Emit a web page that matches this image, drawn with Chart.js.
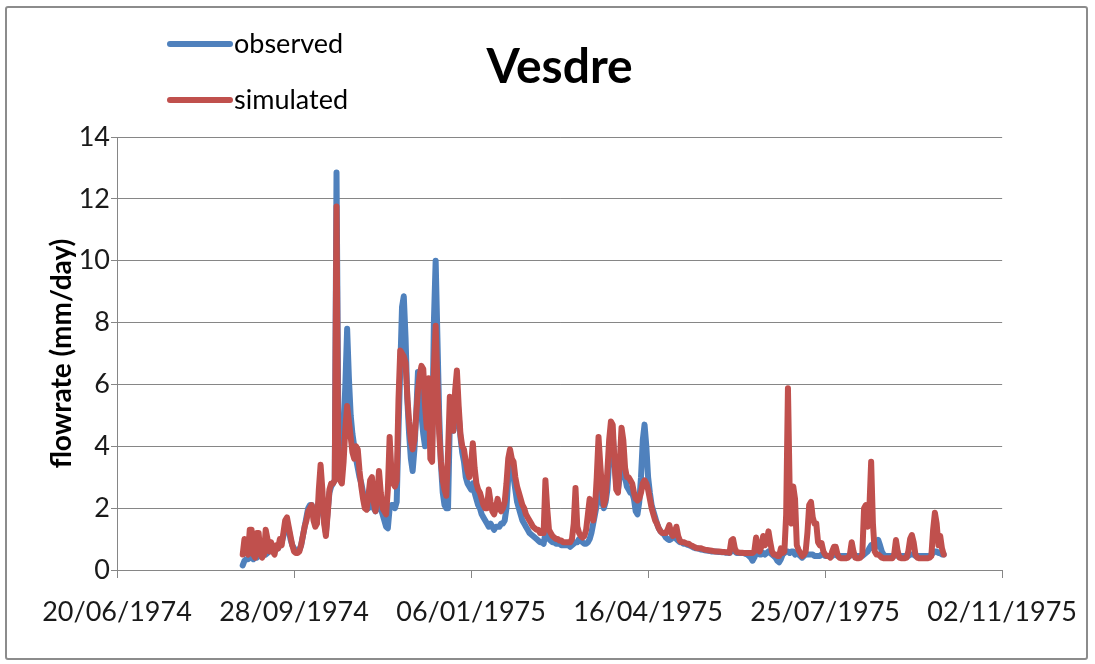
<!DOCTYPE html>
<html>
<head>
<meta charset="utf-8">
<title>Vesdre</title>
<script src="https://cdn.jsdelivr.net/npm/chart.js@4.4.1/dist/chart.umd.min.js"></script>
<style>
  html, body { margin: 0; padding: 0; background: #fff; }
  #frame {
    position: absolute; left: 5px; top: 6px; width: 1083px; height: 654px;
    border: 2px solid #8c8c8c; border-radius: 3px; box-sizing: border-box;
  }
  #wrap { position: absolute; left: 0; top: 0; width: 1095px; height: 664px; }
</style>
</head>
<body>
<div id="frame"></div>
<div id="wrap"><canvas id="vesdreChart" width="1095" height="664"></canvas></div>
<script>
// Vesdre: observed vs simulated daily flowrate, 30/08/1974 - 01/10/1975
// x is "days after 20/06/1974" (the first tick of the date axis)

const chartTitle = "Vesdre";
const yTitle = "flowrate (mm/day)";
const seriesNames = ["observed", "simulated"];
const seriesColors = ["#4f81bd", "#c0504d"];

const axisStartUTC = Date.UTC(1974, 5, 20); // 20/06/1974
const xTicksDays = [0, 100, 200, 300, 400, 500];
const yTicks = [0, 2, 4, 6, 8, 10, 12, 14];

const firstDay = 71; // one value per day from here on

const observed = [
  0.15, 0.3, 0.35, 0.35, 0.4, 0.4, 0.35, 0.45, 0.4, 0.5,        // 71
  0.45, 0.5, 0.55, 0.5, 0.55, 0.6, 0.7, 0.75, 0.7, 0.75,        // 81
  0.7, 0.8, 0.9, 1.1, 1.4, 1.5, 1.3, 1.0, 0.8, 0.7,             // 91
  0.6, 0.6, 0.65, 0.8, 1.1, 1.4, 1.7, 2.0, 2.1, 2.1,            // 101
  1.8, 1.6, 1.7, 2.2, 2.5, 2.0, 1.6, 1.2, 1.9, 2.5,             // 111
  2.7, 2.8, 2.9, 12.85, 5.0, 3.2, 3.0, 4.5, 6.0, 7.8,           // 121
  6.2, 5.0, 4.4, 4.0, 3.6, 3.3, 3.0, 2.8, 2.5, 2.2,             // 131
  2.0, 2.0, 2.1, 2.2, 2.0, 1.9, 2.0, 2.2, 2.0, 1.8,             // 141
  1.6, 1.4, 1.35, 2.0, 2.1, 2.1, 2.0, 2.2, 4.5, 6.5,            // 151
  8.5, 8.85, 7.5, 5.5, 4.4, 3.6, 3.2, 3.9, 5.0, 6.4,            // 161
  5.9, 5.0, 4.4, 4.0, 4.4, 4.8, 4.4, 4.0, 8.0, 10.0,            // 171
  7.5, 5.0, 3.4, 2.5, 2.1, 2.0, 2.0, 4.8, 5.2, 4.5,             // 181
  5.0, 5.8, 5.0, 4.3, 3.8, 3.5, 3.0, 2.8, 2.7, 2.6,             // 191
  2.8, 2.5, 2.3, 2.1, 2.0, 1.8, 1.7, 1.6, 1.5, 1.4,             // 201
  1.5, 1.4, 1.3, 1.4, 1.4, 1.4, 1.5, 1.5, 1.6, 2.0,             // 211
  3.0, 3.6, 3.3, 3.0, 2.6, 2.2, 2.0, 1.8, 1.6, 1.5,             // 221
  1.4, 1.3, 1.2, 1.15, 1.1, 1.05, 1.0, 0.95, 0.9, 0.9,          // 231
  0.85, 1.2, 1.1, 1.0, 0.95, 0.9, 0.9, 0.85, 0.85, 0.85,        // 241
  0.8, 0.8, 0.8, 0.8, 0.8, 0.75, 0.8, 0.85, 0.9, 0.9,           // 251
  1.0, 0.95, 0.9, 0.85, 0.85, 0.9, 1.0, 1.2, 1.5, 1.8,          // 261
  2.1, 2.5, 2.4, 2.2, 2.0, 2.2, 2.6, 3.5, 4.3, 4.4,             // 271
  3.5, 2.8, 2.6, 3.0, 3.9, 3.6, 3.0, 2.7, 2.6, 2.5,             // 281
  2.5, 2.3, 1.9, 1.8, 2.2, 3.0, 4.2, 4.7, 4.0, 3.0,             // 291
  2.5, 2.1, 1.9, 1.7, 1.5, 1.35, 1.25, 1.2, 1.15, 1.05,         // 301
  1.0, 0.97, 1.0, 1.1, 1.05, 1.0, 0.95, 0.9, 0.9, 0.85,         // 311
  0.85, 0.82, 0.8, 0.78, 0.75, 0.72, 0.7, 0.7, 0.68, 0.66,      // 321
  0.65, 0.64, 0.63, 0.62, 0.61, 0.6, 0.6, 0.6, 0.59, 0.58,      // 331
  0.58, 0.57, 0.57, 0.56, 0.56, 0.55,                           // 341
  0.6, 0.65, 0.6, 0.55, 0.55, 0.55, 0.55, 0.55, 0.52, 0.5,      // 347
  0.45, 0.4, 0.3, 0.4, 0.55, 0.55, 0.5, 0.5, 0.55, 0.5,         // 357
  0.55, 0.6, 0.55, 0.5, 0.45, 0.4, 0.3, 0.25, 0.35, 0.5,        // 367
  0.55, 0.6, 0.6, 0.55, 0.6, 0.6, 0.5, 0.55, 0.5, 0.45,         // 377
  0.4, 0.45, 0.5, 0.5, 0.5, 0.5, 0.5, 0.45, 0.45, 0.45,         // 387
  0.45, 0.5, 0.5, 0.45, 0.45, 0.45, 0.45, 0.45, 0.5, 0.5,       // 397
  0.45, 0.45, 0.45, 0.45, 0.45, 0.45, 0.45, 0.45, 0.5, 0.5,     // 407
  0.45, 0.45, 0.45, 0.45, 0.45, 0.5, 0.55, 0.6, 0.7, 0.8,       // 417
  0.7, 0.7, 0.85, 0.97, 0.8, 0.6, 0.5, 0.45, 0.45, 0.45,        // 427
  0.45, 0.45, 0.45, 0.5, 0.45, 0.45, 0.45, 0.45, 0.45, 0.45,    // 437
  0.45, 0.5, 0.5, 0.5, 0.45, 0.45, 0.45, 0.45, 0.45, 0.45,      // 447
  0.45, 0.45, 0.45, 0.5, 0.55, 0.6, 0.6, 0.55, 0.55, 0.5, 0.5   // 457
];

const simulated = [
  0.5, 1.0, 0.6, 0.5, 1.3, 1.3, 0.5, 0.4, 1.2, 1.2,             // 71
  0.5, 0.4, 0.5, 1.3, 1.0, 0.6, 0.9, 0.6, 0.5, 0.8,             // 81
  0.7, 1.0, 0.8, 1.2, 1.6, 1.7, 1.4, 1.1, 0.8, 0.6,             // 91
  0.55, 0.55, 0.6, 0.8, 1.1, 1.4, 1.6, 1.9, 2.0, 2.1,           // 101
  1.6, 1.4, 1.5, 2.6, 3.4, 2.6, 1.5, 1.1, 1.8, 2.6,             // 111
  2.8, 2.8, 2.9, 11.75, 3.0, 2.9, 2.8, 3.5, 4.6, 5.3,           // 121
  4.8, 4.3, 3.8, 3.6, 4.0, 3.9, 3.2, 2.7, 2.3, 2.0,             // 131
  1.95, 2.4, 2.9, 3.0, 2.2, 1.9, 2.4, 3.2, 2.5, 2.0,            // 141
  1.9, 1.8, 2.6, 4.3, 3.2, 2.8, 2.7, 2.9, 5.5, 7.1,             // 151
  7.0, 6.9, 6.7, 5.6, 4.8, 4.2, 3.9, 4.2, 5.0, 5.8,             // 161
  6.3, 6.6, 6.5, 5.3, 4.6, 6.2, 3.6, 3.5, 6.5, 7.9,             // 171
  6.0, 4.4, 3.5, 2.9, 2.6, 2.4, 3.8, 5.6, 5.0, 4.5,             // 181
  5.8, 6.45, 5.3, 4.4, 4.0, 3.9, 3.5, 3.2, 3.0, 3.4,            // 191
  4.1, 3.3, 2.8, 2.6, 2.5, 2.3, 2.1, 2.0, 2.0, 2.6,             // 201
  2.2, 1.9, 1.8, 2.0, 2.3, 2.0, 1.9, 2.0, 2.2, 2.8,             // 211
  3.6, 3.9, 3.6, 3.5, 3.0, 2.7, 2.5, 2.3, 2.1, 2.0,             // 221
  1.8, 1.7, 1.6, 1.5, 1.4, 1.35, 1.3, 1.3, 1.2, 1.2,            // 231
  1.2, 2.9, 2.0, 1.3, 1.2, 1.1, 1.05, 1.0, 1.0, 0.95,           // 241
  0.95, 0.9, 0.9, 0.9, 0.9, 0.9, 1.0, 1.5, 2.65, 1.4,           // 251
  1.2, 1.1, 1.05, 1.1, 1.3, 1.8, 2.3, 2.0, 1.6, 2.0,            // 261
  3.0, 4.3, 3.4, 2.6, 2.1, 2.3, 3.2, 4.2, 4.8, 4.7,             // 271
  3.5, 2.6, 2.5, 3.5, 4.6, 4.2, 3.3, 3.0, 3.0, 2.9,             // 281
  2.8, 2.5, 2.3, 2.25, 2.3, 2.5, 2.8, 2.9, 2.8, 2.6,            // 291
  2.3, 2.0, 1.8, 1.6, 1.5, 1.35, 1.25, 1.2, 1.2, 1.2,           // 301
  1.3, 1.45, 1.2, 1.1, 1.2, 1.4, 1.1, 0.95, 0.9, 0.9,           // 311
  0.88, 0.85, 0.85, 0.8, 0.78, 0.75, 0.72, 0.7, 0.7, 0.7,       // 321
  0.68, 0.66, 0.65, 0.64, 0.63, 0.62, 0.61, 0.6, 0.6, 0.6,      // 331
  0.59, 0.58, 0.58, 0.57, 0.57, 0.56,                           // 341
  0.95, 1.0, 0.7, 0.58, 0.57, 0.56, 0.56, 0.55, 0.55, 0.55,     // 347
  0.55, 0.55, 0.55, 0.6, 1.05, 0.7, 0.6, 0.75, 1.1, 0.8,        // 357
  0.9, 1.25, 0.9, 0.6, 0.5, 0.5, 0.45, 0.45, 0.7, 0.55,         // 367
  0.6, 1.8, 5.88, 2.5, 1.5, 2.7, 2.3, 0.8, 0.65, 0.55,          // 377
  0.45, 0.5, 0.6, 1.2, 2.1, 2.2, 1.7, 1.5, 1.5, 0.9,            // 387
  0.8, 0.87, 0.6, 0.5, 0.45, 0.45, 0.4, 0.6, 0.75, 0.75,        // 397
  0.5, 0.4, 0.38, 0.38, 0.38, 0.38, 0.4, 0.5, 0.9, 0.6,         // 407
  0.4, 0.38, 0.38, 0.4, 0.5, 2.0, 2.1, 1.4, 2.0, 3.5,           // 417
  1.5, 0.6, 0.5, 0.5, 0.45, 0.4, 0.38, 0.38, 0.38, 0.38,        // 427
  0.38, 0.38, 0.5, 0.97, 0.6, 0.4, 0.38, 0.38, 0.38, 0.4,       // 437
  0.6, 1.0, 1.13, 0.9, 0.5, 0.4, 0.38, 0.38, 0.38, 0.38,        // 447
  0.38, 0.38, 0.4, 0.45, 1.3, 1.85, 1.5, 0.8, 1.1, 0.7, 0.5     // 457
];

/* ---------- helpers ---------- */

function dayLabel(days) {
  const d = new Date(axisStartUTC + days * 86400000);
  const dd = String(d.getUTCDate()).padStart(2, "0");
  const mm = String(d.getUTCMonth() + 1).padStart(2, "0");
  return `${dd}/${mm}/${d.getUTCFullYear()}`;
}

function toPoints(values) {
  return values.map((v, i) => ({ x: firstDay + i, y: v }));
}

const FONT = "Lato";
const gridGrey = "#868686";

// title + stacked legend drawn top-left, like the Excel original
const headerPlugin = {
  id: "header",
  afterDraw(chart) {
    const { ctx, chartArea } = chart;
    ctx.save();
    ctx.fillStyle = "#000";
    ctx.textBaseline = "middle";

    ctx.font = `bold 48px ${FONT}`;
    ctx.textAlign = "center";
    ctx.fillText(chartTitle, (chartArea.left + chartArea.right) / 2, 68);

    ctx.font = `27px ${FONT}`;
    ctx.textAlign = "left";
    chart.data.datasets.forEach((ds, i) => {
      const y = 44 + i * 56;
      ctx.strokeStyle = ds.borderColor;
      ctx.lineWidth = 6;
      ctx.lineCap = "round";
      ctx.beginPath();
      ctx.moveTo(170, y);
      ctx.lineTo(230, y);
      ctx.stroke();
      ctx.fillText(ds.label, 234, y);
    });
    ctx.restore();
  }
};

const ctx = document.getElementById("vesdreChart").getContext("2d");
new Chart(ctx, {
  type: "line",
  data: {
    datasets: [
      {
        label: seriesNames[0],
        data: toPoints(observed),
        borderColor: seriesColors[0],
        order: 2
      },
      {
        label: seriesNames[1],
        data: toPoints(simulated),
        borderColor: seriesColors[1],
        order: 1
      }
    ]
  },
  options: {
    responsive: false,
    animation: false,
    layout: { padding: { left: 0, right: 92, top: 137, bottom: 0 } },
    elements: {
      point: { radius: 0 },
      line: {
        borderWidth: 6,
        tension: 0,
        borderJoinStyle: "round",
        borderCapStyle: "round",
        fill: false
      }
    },
    plugins: {
      legend: { display: false },
      title: { display: false },
      tooltip: { enabled: false }
    },
    scales: {
      x: {
        type: "linear",
        min: xTicksDays[0],
        max: xTicksDays[xTicksDays.length - 1],
        afterBuildTicks: (scale) => {
          scale.ticks = xTicksDays.map((v) => ({ value: v }));
        },
        afterFit: (scale) => {
          scale.height = 94;
        },
        ticks: {
          callback: (v) => dayLabel(v),
          color: "#1a1a1a",
          font: { family: FONT, size: 27 },
          padding: 18,
          maxRotation: 0,
          autoSkip: false
        },
        grid: {
          drawOnChartArea: false,
          drawTicks: true,
          tickLength: 8,
          color: gridGrey
        },
        border: { color: gridGrey, width: 1 }
      },
      y: {
        min: 0,
        max: 14,
        afterBuildTicks: (scale) => {
          scale.ticks = yTicks.map((v) => ({ value: v }));
        },
        afterFit: (scale) => {
          scale.width = 117;
        },
        ticks: {
          color: "#1a1a1a",
          font: { family: FONT, size: 27 },
          padding: 1
        },
        grid: {
          color: gridGrey,
          lineWidth: 1,
          tickLength: 6,
          drawTicks: true
        },
        border: { color: gridGrey, width: 1 },
        title: {
          display: true,
          text: yTitle,
          color: "#000",
          font: { family: FONT, size: 28, weight: "bold" },
          padding: { top: 45, bottom: 0 }
        }
      }
    }
  },
  plugins: [headerPlugin]
});
</script>
</body>
</html>
